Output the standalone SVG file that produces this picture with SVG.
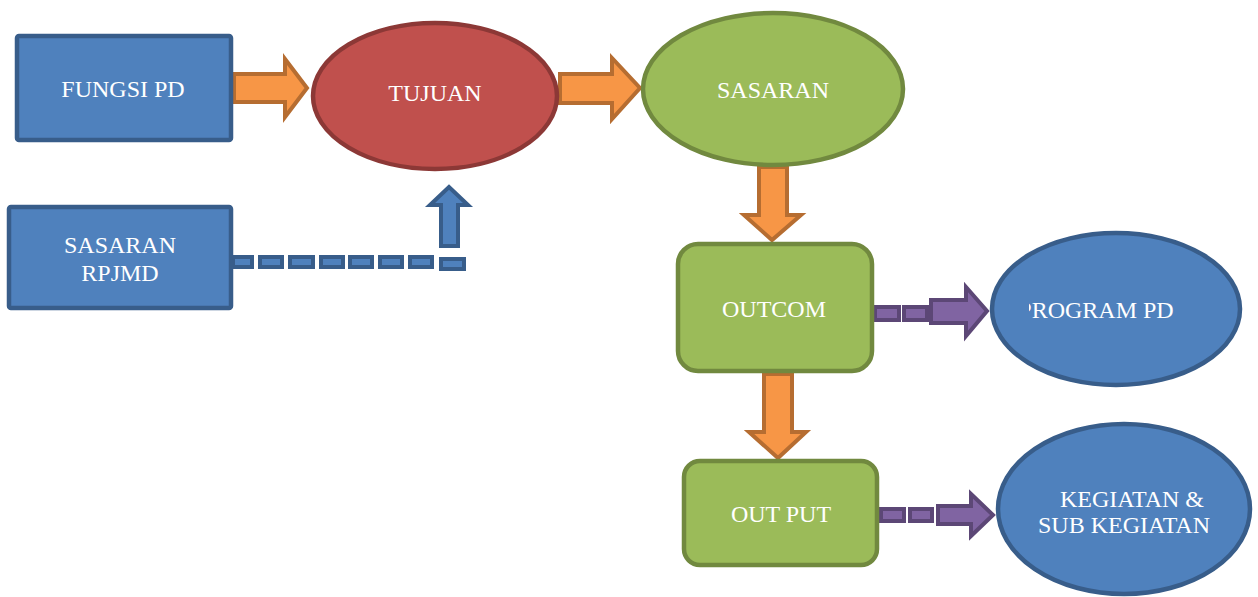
<svg xmlns="http://www.w3.org/2000/svg" width="1258" height="597" viewBox="0 0 1258 597">
<defs>
<style>
.blue{fill:#4F81BD;stroke:#385D8A;stroke-width:4.5}
.red{fill:#C0504D;stroke:#8C3836;stroke-width:4.5}
.green{fill:#9BBB59;stroke:#71893F;stroke-width:4.5}
.orange{fill:#F79646;stroke:#B66D31;stroke-width:4;stroke-linejoin:miter}
.purple{fill:#8064A2;stroke:#5C4776;stroke-width:4;stroke-linejoin:miter}
.bluearr{fill:#4F81BD;stroke:#385D8A;stroke-width:4;stroke-linejoin:miter}
.t{font-family:"Liberation Serif","Times New Roman",serif;font-size:24px;fill:#FFFFFF;text-anchor:middle}
</style>
<clipPath id="clipProg"><rect x="1029" y="280" width="205" height="60"/></clipPath>
</defs>
<g id="connectors">
<path class="orange" d="M234,74 H285 V59 L307,88 L285,117 V102 H234 Z"/>
<path class="orange" d="M560,74 H612 V58 L640,88 L612,119 V103 H560 Z"/>
<path class="orange" d="M759,167 V215 H744 L772,240 L801,215 H787 V167 Z"/>
<path class="orange" d="M764,374 V432 H749 L778,458 L806,432 H792 V374 Z"/>
<g class="bluearr">
<rect x="233" y="257" width="19" height="10"/>
<rect x="260" y="257" width="22" height="10"/>
<rect x="290" y="257" width="23" height="10"/>
<rect x="321" y="257" width="22" height="10"/>
<rect x="350" y="257" width="22" height="10"/>
<rect x="380" y="257" width="22" height="10"/>
<rect x="410" y="257" width="22" height="10"/>
<rect x="441" y="259" width="23" height="10"/>
<path d="M441,246 V205 H430 L449,187 L468,205 H458 V246 Z"/>
</g>
<g class="purple">
<rect x="875" y="307" width="24" height="13"/>
<rect x="904" y="307" width="23" height="13"/>
<path d="M931,300 H966 V287 L987,311 L966,336 V323 H931 Z"/>
<rect x="881" y="509" width="23" height="12"/>
<rect x="910" y="509" width="22" height="12"/>
<path d="M938,506 H971 V494 L993,515 L971,536 V524 H938 Z"/>
</g>
</g>
<g id="fungsi-pd">
<rect class="blue" x="17" y="36" width="214" height="104" rx="2"/>
<text class="t" x="123" y="97">FUNGSI PD</text>
</g>
<g id="sasaran-rpjmd">
<rect class="blue" x="9" y="207" width="222" height="101" rx="2"/>
<text class="t" x="120" y="253">SASARAN</text>
<text class="t" x="120" y="281">RPJMD</text>
</g>
<g id="tujuan">
<ellipse class="red" cx="435" cy="96" rx="122" ry="73"/>
<text class="t" x="435" y="101">TUJUAN</text>
</g>
<g id="sasaran">
<ellipse class="green" cx="773" cy="89" rx="130" ry="76"/>
<text class="t" x="773" y="98">SASARAN</text>
</g>
<g id="outcom">
<rect class="green" x="678" y="244" width="194" height="127" rx="20"/>
<text class="t" x="774" y="317">OUTCOM</text>
</g>
<g id="output">
<rect class="green" x="684" y="461" width="193" height="104" rx="16"/>
<text class="t" x="781" y="522">OUT PUT</text>
</g>
<g id="program-pd">
<ellipse class="blue" cx="1116" cy="309" rx="124" ry="76"/>
<text class="t" x="1096" y="318" clip-path="url(#clipProg)">PROGRAM PD</text>
</g>
<g id="kegiatan">
<ellipse class="blue" cx="1124" cy="509" rx="126" ry="85"/>
<text class="t" x="1132" y="507">KEGIATAN &amp;</text>
<text class="t" x="1124" y="533">SUB KEGIATAN</text>
</g>
</svg>
